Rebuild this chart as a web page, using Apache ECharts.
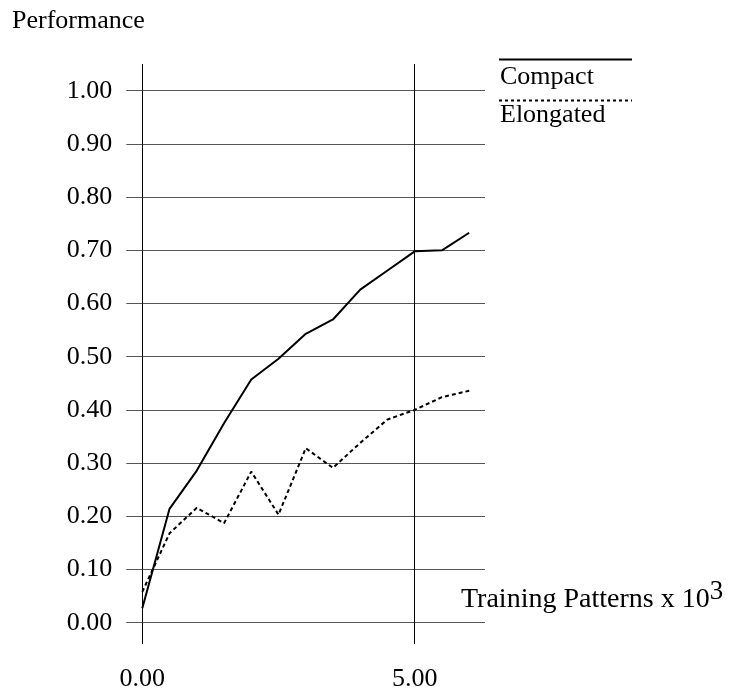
<!DOCTYPE html>
<html>
<head>
<meta charset="utf-8">
<script src="https://cdn.jsdelivr.net/npm/echarts@6/dist/echarts.min.js"></script>
<style>
html,body{margin:0;padding:0;background:#fff;}
#chart{width:735px;height:692px;}
</style>
</head>
<body>
<div id="chart"></div>
<script>
var patterns = [0, 0.5, 1, 1.5, 2, 2.5, 3, 3.5, 4, 4.5, 5, 5.5, 6];
var compact = [0.027, 0.214, 0.286, 0.375, 0.457, 0.496, 0.543, 0.570, 0.626, 0.662, 0.698, 0.700, 0.733];
var elongated = [0.058, 0.168, 0.216, 0.187, 0.284, 0.203, 0.328, 0.291, 0.338, 0.382, 0.400, 0.424, 0.436];
var xTicks = [0, 5];
var yTicks = [0, 0.1, 0.2, 0.3, 0.4, 0.5, 0.6, 0.7, 0.8, 0.9, 1.0];

var FONT = 'Liberation Serif';
var FS = 26;
var XMAX = 6.29;

function pairs(xs, ys){ return xs.map(function(x,i){ return [x, ys[i]]; }); }

var chart = echarts.init(document.getElementById('chart'), null, {renderer:'canvas'});
chart.setOption({
  animation: false,
  backgroundColor: '#fff',
  textStyle: {fontFamily: FONT, color: '#000'},
  title: [
    {text: 'Performance', left: 7, top: 3, textStyle: {fontFamily: FONT, fontSize: FS, fontWeight: 'normal', color: '#000'}},
    {text: '{a|Training Patterns x 10}{s|3}', left: 456, top: 573,
     textStyle: {fontWeight: 'normal', rich: {
       a: {fontFamily: FONT, fontSize: 28, fontWeight: 'normal', color: '#000', verticalAlign: 'bottom', lineHeight: 36},
       s: {fontFamily: FONT, fontSize: 27, fontWeight: 'normal', color: '#000', verticalAlign: 'top', lineHeight: 36}
     }}}
  ],
  grid: [
    {left: 142.3, right: 250, top: 90.7, bottom: 69.3},
    {left: 142.3, right: 250, top: 64, bottom: 44}
  ],
  xAxis: [
    {gridIndex: 0, type: 'value', min: 0, max: XMAX, axisLine: {show: false}, axisTick: {show: false}, axisLabel: {show: false}, splitLine: {show: false}},
    {gridIndex: 1, type: 'value', min: 0, max: XMAX, interval: 5,
     axisLine: {show: false}, axisTick: {show: false},
     axisLabel: {show: true, showMaxLabel: false, margin: 22, fontFamily: FONT, fontSize: FS, color: '#000',
       formatter: function(v){ return xTicks.indexOf(v) >= 0 ? v.toFixed(2) : ''; }},
     splitLine: {show: true, showMaxLine: false, lineStyle: {color: '#000', width: 1}}}
  ],
  yAxis: [
    {gridIndex: 0, type: 'value', min: 0, max: 1, interval: 0.1,
     axisLine: {show: false},
     axisTick: {show: true, length: 16, lineStyle: {color: '#555', width: 1}},
     axisLabel: {margin: 30, fontFamily: FONT, fontSize: FS, color: '#000',
       formatter: function(v){ return v.toFixed(2); }},
     splitLine: {show: true, lineStyle: {color: '#555', width: 1}}},
    {gridIndex: 1, type: 'value', min: 0, max: 1, show: false}
  ],
  series: [
    {name: 'Compact', type: 'line', xAxisIndex: 0, yAxisIndex: 0, data: pairs(patterns, compact),
     symbol: 'none', lineStyle: {color: '#000', width: 2, type: 'solid'}, z: 5},
    {name: 'Elongated', type: 'line', xAxisIndex: 0, yAxisIndex: 0, data: pairs(patterns, elongated),
     symbol: 'none', lineStyle: {color: '#000', width: 2, type: [4, 3]}, z: 5}
  ],
  graphic: [
    {type: 'line', shape: {x1: 499, y1: 59.5, x2: 632, y2: 59.5}, style: {stroke: '#000', lineWidth: 2}},
    {type: 'text', x: 500, y: 77, style: {text: 'Compact', fontFamily: FONT, fontSize: FS, fill: '#000', verticalAlign: 'middle'}},
    {type: 'line', shape: {x1: 499, y1: 100.5, x2: 632, y2: 100.5}, style: {stroke: '#000', lineWidth: 2, lineDash: [3, 3]}},
    {type: 'text', x: 500, y: 115, style: {text: 'Elongated', fontFamily: FONT, fontSize: FS, fill: '#000', verticalAlign: 'middle'}}
  ]
});
</script>
</body>
</html>
